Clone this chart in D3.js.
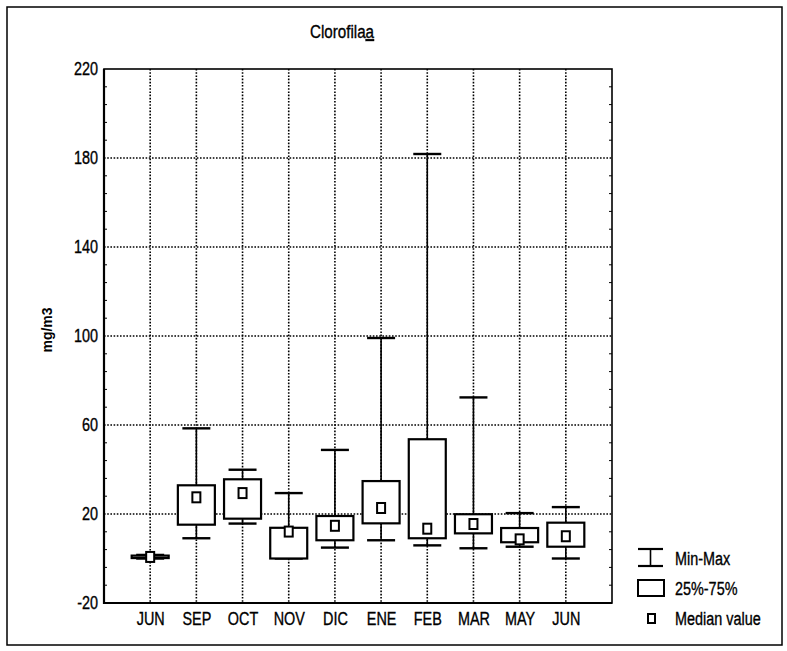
<!DOCTYPE html>
<html>
<head>
<meta charset="utf-8">
<script src="https://cdn.jsdelivr.net/npm/d3@7/dist/d3.min.js"></script>
<style>
  html, body { margin: 0; padding: 0; background: #fff; }
  svg { display: block; }
  .narrow {
    font-family: "Liberation Sans Narrow", "Arial Narrow", "Liberation Sans", Arial, sans-serif;
    stroke: #000; stroke-width: 0.35px;
  }
</style>
</head>
<body>
<svg id="chart" width="787" height="651"></svg>
<script>
// Monthly chlorophyll-a summaries (mg/m3)
const months  = ["JUN", "SEP", "OCT", "NOV", "DIC", "ENE", "FEB", "MAR", "MAY", "JUN"];
const minVals = [0.0, 9.1, 15.7, 0.0, 4.9, 8.2, 5.9, 4.6, 5.3, 0.0];
const q1Vals  = [0.2, 15.2, 17.9, 0.0, 8.2, 15.8, 9.1, 11.3, 7.3, 5.3];
const medVals = [0.7, 27.5, 29.4, 12.1, 14.7, 22.7, 13.4, 15.5, 8.6, 10.0];
const q3Vals  = [1.3, 32.9, 35.6, 13.8, 19.1, 34.8, 53.6, 19.9, 13.7, 16.1];
const maxVals = [1.6, 58.5, 39.9, 29.4, 48.8, 99.1, 181.8, 72.4, 20.4, 23.1];
const yTicks  = [-20, 20, 60, 100, 140, 180, 220];
const legendLabels = ["Min-Max", "25%-75%", "Median value"];

const svg = d3.select("#chart");
const plotL = 104, plotR = 612, plotT = 69, plotB = 603;
const squeeze = 0.8;   // horizontal compression for a narrow typeface look

// shrink text horizontally while keeping its anchor
function condense(sel) {
  sel.each(function () {
    const w = this.getComputedTextLength();
    this.setAttribute("textLength", w * squeeze);
    this.setAttribute("lengthAdjust", "spacingAndGlyphs");
  });
}

// outer frame
svg.append("rect")
  .attr("x", 7).attr("y", 7).attr("width", 775).attr("height", 638)
  .attr("fill", "none").attr("stroke", "#000").attr("stroke-width", 1.5);

const idx = months.map((d, i) => i);
const x = d3.scalePoint().domain(idx).range([plotL, plotR]).padding(1);
const y = d3.scaleLinear().domain([-20, 220]).range([plotB, plotT]);

// dotted grid
const grid = svg.append("g").attr("stroke", "#000").attr("stroke-width", 1.6)
  .attr("stroke-dasharray", "1.6,1.6");
grid.selectAll("line.h").data(yTicks.filter(t => t > -20 && t < 220)).join("line")
  .attr("class", "h")
  .attr("x1", plotL).attr("x2", plotR)
  .attr("y1", d => y(d)).attr("y2", d => y(d));
grid.selectAll("line.v").data(idx).join("line")
  .attr("class", "v")
  .attr("y1", plotT).attr("y2", plotB)
  .attr("x1", d => x(d)).attr("x2", d => x(d));

// minor ticks on the inside of left and right axes
const minor = d3.range(-20, 221, 8).filter(v => !yTicks.includes(v));
const mt = svg.append("g").attr("stroke", "#000").attr("stroke-width", 1);
mt.selectAll("line.l").data(minor).join("line").attr("class", "l")
  .attr("x1", plotL).attr("x2", plotL + 3).attr("y1", d => y(d)).attr("y2", d => y(d));
mt.selectAll("line.r").data(minor).join("line").attr("class", "r")
  .attr("x1", plotR).attr("x2", plotR - 3).attr("y1", d => y(d)).attr("y2", d => y(d));

// y axis labels
const yAxis = d3.axisLeft(y).tickValues(yTicks).tickSize(0).tickPadding(6);
svg.append("g").attr("transform", `translate(${plotL},0)`).call(yAxis)
  .attr("font-family", null)
  .call(g => g.select(".domain").remove())
  .selectAll("text").attr("class", "narrow").attr("font-size", 18).attr("fill", "#000")
  .text(d => String(d)).call(condense);

// x axis labels
const xAxis = d3.axisBottom(x).tickFormat(i => months[i]).tickSize(0).tickPadding(9);
svg.append("g").attr("transform", `translate(0,${plotB})`).call(xAxis)
  .attr("font-family", null)
  .call(g => g.select(".domain").remove())
  .selectAll("text").attr("class", "narrow").attr("font-size", 18).attr("fill", "#000")
  .call(condense);

// plot border
svg.append("rect").attr("x", plotL).attr("y", plotT)
  .attr("width", plotR - plotL).attr("height", plotB - plotT)
  .attr("fill", "none").attr("stroke", "#000").attr("stroke-width", 1.6);
svg.append("line").attr("x1", plotL).attr("x2", plotL).attr("y1", plotT).attr("y2", plotB + 1)
  .attr("stroke", "#000").attr("stroke-width", 2.2);
svg.append("line").attr("x1", plotL).attr("x2", plotR).attr("y1", plotB).attr("y2", plotB)
  .attr("stroke", "#000").attr("stroke-width", 2.2);

// box plots
const boxW = 37, capW = 28, medW = 8, medH = 10;
const boxes = svg.append("g").selectAll("g").data(idx).join("g");
boxes.append("line")
  .attr("x1", i => x(i)).attr("x2", i => x(i))
  .attr("y1", i => y(maxVals[i])).attr("y2", i => y(minVals[i]))
  .attr("stroke", "#000").attr("stroke-width", 1.6);
boxes.append("line")
  .attr("x1", i => x(i) - capW / 2).attr("x2", i => x(i) + capW / 2)
  .attr("y1", i => y(maxVals[i])).attr("y2", i => y(maxVals[i]))
  .attr("stroke", "#000").attr("stroke-width", 2.4);
boxes.append("line")
  .attr("x1", i => x(i) - capW / 2).attr("x2", i => x(i) + capW / 2)
  .attr("y1", i => y(minVals[i])).attr("y2", i => y(minVals[i]))
  .attr("stroke", "#000").attr("stroke-width", 2.4);
boxes.append("rect")
  .attr("x", i => x(i) - boxW / 2).attr("width", boxW)
  .attr("y", i => y(q3Vals[i])).attr("height", i => y(q1Vals[i]) - y(q3Vals[i]))
  .attr("fill", "#fff").attr("stroke", "#000").attr("stroke-width", 2.2);
boxes.append("rect")
  .attr("x", i => x(i) - medW / 2).attr("width", medW)
  .attr("y", i => y(medVals[i]) - medH / 2).attr("height", medH)
  .attr("fill", "#fff").attr("stroke", "#000").attr("stroke-width", 2);

// title with underlined letter
const title = svg.append("text").attr("class", "narrow")
  .attr("transform", `translate(342,38) scale(${squeeze},1)`)
  .attr("text-anchor", "middle")
  .attr("font-size", 19).attr("fill", "#000");
title.append("tspan").text("Clorofila");
title.append("tspan").attr("text-decoration", "underline").text("a");

// y axis title
svg.append("text")
  .attr("transform", "translate(52,330) rotate(-90)")
  .attr("text-anchor", "middle")
  .attr("font-family", "Liberation Sans, Arial, sans-serif")
  .attr("font-weight", "bold").attr("font-size", 14).attr("fill", "#000")
  .text("mg/m3");

// legend
const lg = svg.append("g");
lg.append("line").attr("x1", 638).attr("x2", 663).attr("y1", 549).attr("y2", 549)
  .attr("stroke", "#000").attr("stroke-width", 2.2);
lg.append("line").attr("x1", 638).attr("x2", 663).attr("y1", 566).attr("y2", 566)
  .attr("stroke", "#000").attr("stroke-width", 2.2);
lg.append("line").attr("x1", 650.5).attr("x2", 650.5).attr("y1", 549).attr("y2", 566)
  .attr("stroke", "#000").attr("stroke-width", 1.6);
lg.append("rect").attr("x", 638).attr("y", 580).attr("width", 26).attr("height", 16)
  .attr("fill", "#fff").attr("stroke", "#000").attr("stroke-width", 2);
lg.append("rect").attr("x", 648).attr("y", 614).attr("width", 7).attr("height", 9)
  .attr("fill", "#fff").attr("stroke", "#000").attr("stroke-width", 2);
lg.selectAll("text").data(legendLabels).join("text")
  .attr("class", "narrow")
  .attr("x", 675).attr("y", (d, i) => [559, 589, 619][i])
  .attr("dy", "0.35em").attr("font-size", 18).attr("fill", "#000")
  .text(d => d)
  .call(condense);
</script>
</body>
</html>
